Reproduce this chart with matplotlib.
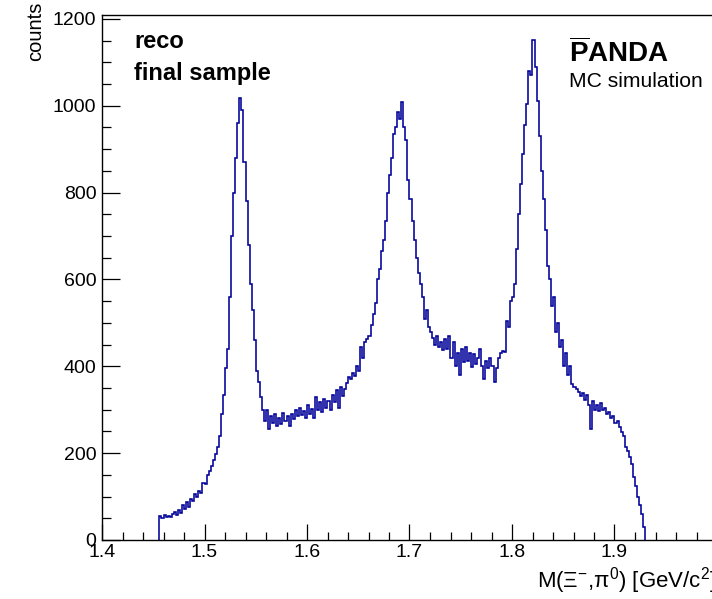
import numpy as np
import matplotlib
matplotlib.use("Agg")
import matplotlib.pyplot as plt

# ---------------- data ----------------
BIN_START = 1.456
BIN_WIDTH = 0.002
counts_1456_1500 = [55, 50, 58, 53, 56, 52, 60, 64, 58, 68, 62, 80, 72, 88, 76, 95, 90, 105, 100, 112, 108, 132]
counts_1500_1560 = [128, 150, 158, 170, 185, 198, 215, 240, 290, 335, 395, 440, 560, 700, 800,
                    880, 960, 1018, 990, 870, 780, 680, 590, 530, 460, 390, 365, 330, 300, 275]
counts_1560_1640 = [300, 255, 285, 270, 290, 262, 280, 268, 292, 275, 285, 262, 290, 278, 300,
                    285, 305, 288, 298, 282, 310, 290, 302, 280, 330, 300, 318, 295, 325, 305,
                    320, 300, 335, 318, 345, 305, 352, 332, 348, 362]
counts_1640_1720 = [375, 370, 385, 378, 400, 390, 445, 420, 455, 462, 470, 495, 520, 545, 600,
                    625, 665, 690, 735, 800, 840, 880, 935, 950, 985, 970, 1008, 950, 920, 830,
                    785, 735, 690, 650, 615, 590, 560, 510, 530, 490]
counts_1720_1800 = [478, 465, 450, 470, 445, 455, 438, 462, 440, 470, 420, 455, 400, 430, 380,
                    440, 410, 445, 412, 430, 398, 428, 405, 420, 440, 400, 370, 412, 395, 420,
                    400, 365, 395, 420, 430, 435, 432, 505, 490, 550]
counts_1800_1880 = [560, 590, 670, 750, 820, 890, 955, 1005, 1080, 1070, 1152, 1090, 1010, 930, 850,
                    785, 715, 630, 600, 540, 560, 480, 500, 445, 460, 400, 430, 380, 400, 360,
                    352, 348, 340, 332, 338, 322, 335, 310, 255, 320]
counts_1880_1930 = [300, 312, 298, 315, 300, 305, 290, 295, 280, 285, 270, 275, 260, 248, 240,
                    215, 205, 190, 175, 145, 125, 100, 80, 60, 30]
counts = (counts_1456_1500 + counts_1500_1560 + counts_1560_1640 + counts_1640_1720
          + counts_1720_1800 + counts_1800_1880 + counts_1880_1930)

x_ticks = [1.4, 1.5, 1.6, 1.7, 1.8, 1.9, 2.0]
x_tick_labels = ["1.4", "1.5", "1.6", "1.7", "1.8", "1.9", "2"]
y_ticks = [0, 200, 400, 600, 800, 1000, 1200]
y_tick_labels = ["0", "200", "400", "600", "800", "1000", "1200"]
x_range = (1.4, 2.0)
y_range = (0, 1209)

# ---------------- style ----------------
plt.rcParams['font.family'] = ['Liberation Sans', 'DejaVu Sans']
plt.rcParams['mathtext.fontset'] = 'custom'
plt.rcParams['mathtext.rm'] = 'Liberation Sans'
plt.rcParams['mathtext.it'] = 'Liberation Sans:italic'
plt.rcParams['mathtext.bf'] = 'Liberation Sans:bold'

W, H = 712, 599
fig = plt.figure(figsize=(W / 100, H / 100), dpi=100)
fig.patch.set_facecolor('white')

left, right, bottom, top = 102, 717, 540, 15
ax = fig.add_axes([left / W, (H - bottom) / H, (right - left) / W, (bottom - top) / H])

edges = BIN_START + BIN_WIDTH * np.arange(len(counts) + 1)
ax.stairs(counts, edges, color='#000099', linewidth=1.15, baseline=0)

ax.set_xlim(*x_range)
ax.set_ylim(*y_range)

ax.set_xticks(x_ticks)
ax.set_xticklabels(x_tick_labels)
ax.set_yticks(y_ticks)
ax.set_yticklabels(y_tick_labels)
ax.set_xticks(np.arange(1.4, 2.0001, 0.02), minor=True)
ax.set_yticks(np.arange(0, 1201, 50), minor=True)

ax.tick_params(axis='x', which='major', direction='in', length=11.3, width=0.9,
               labelsize=14, pad=3, top=False)
ax.tick_params(axis='x', which='minor', direction='in', length=5.6, width=0.9, top=False)
ax.tick_params(axis='y', which='major', direction='in', length=13.3, width=0.9,
               labelsize=14, pad=4, right=False)
ax.tick_params(axis='y', which='minor', direction='in', length=6.6, width=0.9, right=False)
for sp in ax.spines.values():
    sp.set_linewidth(1.0)

fig.text(537 / W, 1 - 588 / H, r'M($\mathrm{\Xi}^{-}$,$\mathrm{\pi}^{0}$) [GeV/c$^{2}$]', fontsize=16,
         ha='left', va='baseline')
fig.text(36 / W, 1 - 2 / H, 'counts', rotation=90, ha='center', va='top', fontsize=14.5)

# annotations
fig.text(134 / W, 1 - 48.5 / H, 'reco', fontsize=17, fontweight='bold', va='baseline')
fig.text(134 / W, 1 - 80 / H, 'final sample', fontsize=17, fontweight='bold', va='baseline')
fig.text(569 / W, 1 - 62.5 / H, r'$\mathbf{\overline{P}ANDA}$', fontsize=20, va='baseline')
fig.text(569 / W, 1 - 87.3 / H, 'MC simulation', fontsize=15.2, va='baseline')

fig.savefig('out.png', dpi=100)
